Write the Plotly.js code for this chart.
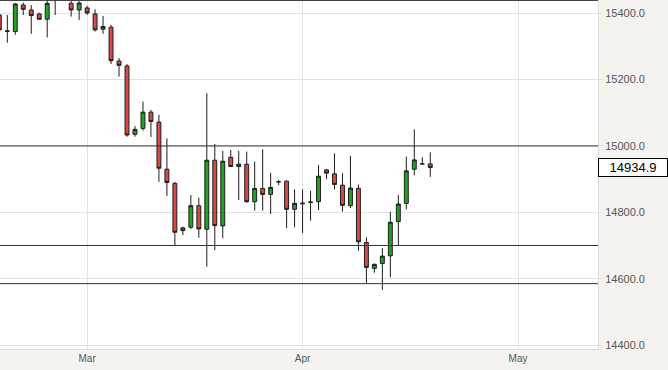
<!DOCTYPE html>
<html>
<head>
<meta charset="utf-8">
<script src="https://cdn.plot.ly/plotly-3.0.1.min.js"></script>
<style>html,body{margin:0;padding:0;background:#f4f3f0;}#chart{width:668px;height:370px;}</style>
</head>
<body>
<div id="chart"></div>
<script>
// Trading-session slot index (slot 7 has no visible candle)
const slot  = [-1,0,1,2,3,4,5,6,8,9,10,11,12,13,14,15,16,17,18,19,20,21,22,23,24,25,26,27,28,29,30,31,32,33,34,35,36,37,38,39,40,41,42,43,44,45,46,47,48,49,50,51,52,53];
const open  = [15395,15347,15345,15425,15410,15398,15382,15448,15430,15410,15416,15398,15352,15358,15256,15241,15035,15053,15102,15072,14930,14887,14745,14755,14820,14749,14957,14759,14966,14938,14945,14832,14872,14854,14892,14894,14809,14828,14830,14832,14928,14916,14882,14820,14872,14709,14631,14646,14669,14772,14827,14930,14946,14946];
const high  = [15405,15395,15431,15432,15425,15402,15440,15470,15445,15445,15422,15412,15392,15365,15265,15247,15060,15134,15109,15094,15023,14892,14757,14852,14844,15159,15006,14985,14988,14985,14983,14953,14990,14919,14897,14896,14869,14869,14865,14943,14930,14978,14918,14970,14884,14725,14646,14692,14802,14852,14968,15050,14966,14981];
const low   = [15330,15311,15335,15395,15338,15380,15327,15395,15390,15380,15395,15345,15338,15247,15209,15028,15028,15046,15027,14892,14849,14701,14731,14750,14723,14636,14686,14722,14937,14837,14829,14805,14805,14795,14882,14752,14755,14738,14775,14807,14900,14869,14802,14813,14684,14586,14618,14566,14604,14701,14809,14912,14946,14907];
const close = [15350,15346,15428,15412,15393,15382,15430,15460,15410,15431,15401,15350,15360,15257,15243,15033,15050,15102,15074,14933,14890,14740,14753,14820,14750,14957,14760,14954,14938,14945,14832,14872,14854,14875,14892,14809,14827,14826,14831,14909,14918,14884,14821,14873,14711,14634,14643,14668,14770,14825,14925,14958,14946,14934.9];

// Month tick positions (slot index) and labels
const monthSlots  = [10, 37, 64];
const monthLabels = ['Mar', 'Apr', 'May'];

// Horizontal support / resistance levels
const levels = [15000, 14700, 14585];

const lastPrice = close[close.length - 1];

const trace = {
  type: 'candlestick',
  x: slot, open: open, high: high, low: low, close: close,
  increasing: {line: {color: '#1e1e1e', width: 1}, fillcolor: '#25a025'},
  decreasing: {line: {color: '#1e1e1e', width: 1}, fillcolor: '#d44a46'},
  whiskerwidth: 0,
  hoverinfo: 'skip'
};

const shapes = levels.map(v => ({
  type: 'line', xref: 'paper', x0: 0, x1: 1, yref: 'y', y0: v, y1: v,
  line: {color: '#333', width: 1}
}));
shapes.push({type: 'line', xref: 'paper', x0: 0, x1: 1, yref: 'paper', y0: 1, y1: 1,
  line: {color: '#444', width: 2}});

const layout = {
  width: 668, height: 370,
  margin: {l: 0, r: 70, t: 0, b: 21},
  paper_bgcolor: '#f4f3f0',
  plot_bgcolor: '#ffffff',
  showlegend: false,
  font: {family: 'Arial, Liberation Sans, sans-serif'},
  xaxis: {
    type: 'linear', range: [-0.915, 74.02],
    tickvals: monthSlots, ticktext: monthLabels,
    showgrid: true, gridcolor: '#e2e2e2', gridwidth: 1,
    zeroline: false, ticks: '',
    tickfont: {size: 10, color: '#555'},
    showline: true, linecolor: '#dcdcdc',
    rangeslider: {visible: false}, fixedrange: true
  },
  yaxis: {
    side: 'right', range: [14388, 15440],
    tick0: 14400, dtick: 200, tickformat: '.1f',
    showgrid: true, gridcolor: '#e2e2e2',
    zeroline: false,
    ticks: 'outside', ticklen: 4, tickcolor: '#e2e2e2',
    tickfont: {size: 11, color: '#555'},
    showline: true, linecolor: '#dcdcdc', fixedrange: true
  },
  shapes: shapes,
  annotations: [{
    xref: 'paper', x: 1, xanchor: 'left', yref: 'y', y: lastPrice, yanchor: 'middle',
    text: lastPrice.toFixed(1), showarrow: false,
    font: {size: 13, color: '#000'},
    bgcolor: '#ffffff', bordercolor: '#000', borderwidth: 1, borderpad: 1,
    width: 66, height: 15
  }]
};

Plotly.newPlot('chart', [trace], layout, {staticPlot: true, displayModeBar: false});
</script>
</body>
</html>
